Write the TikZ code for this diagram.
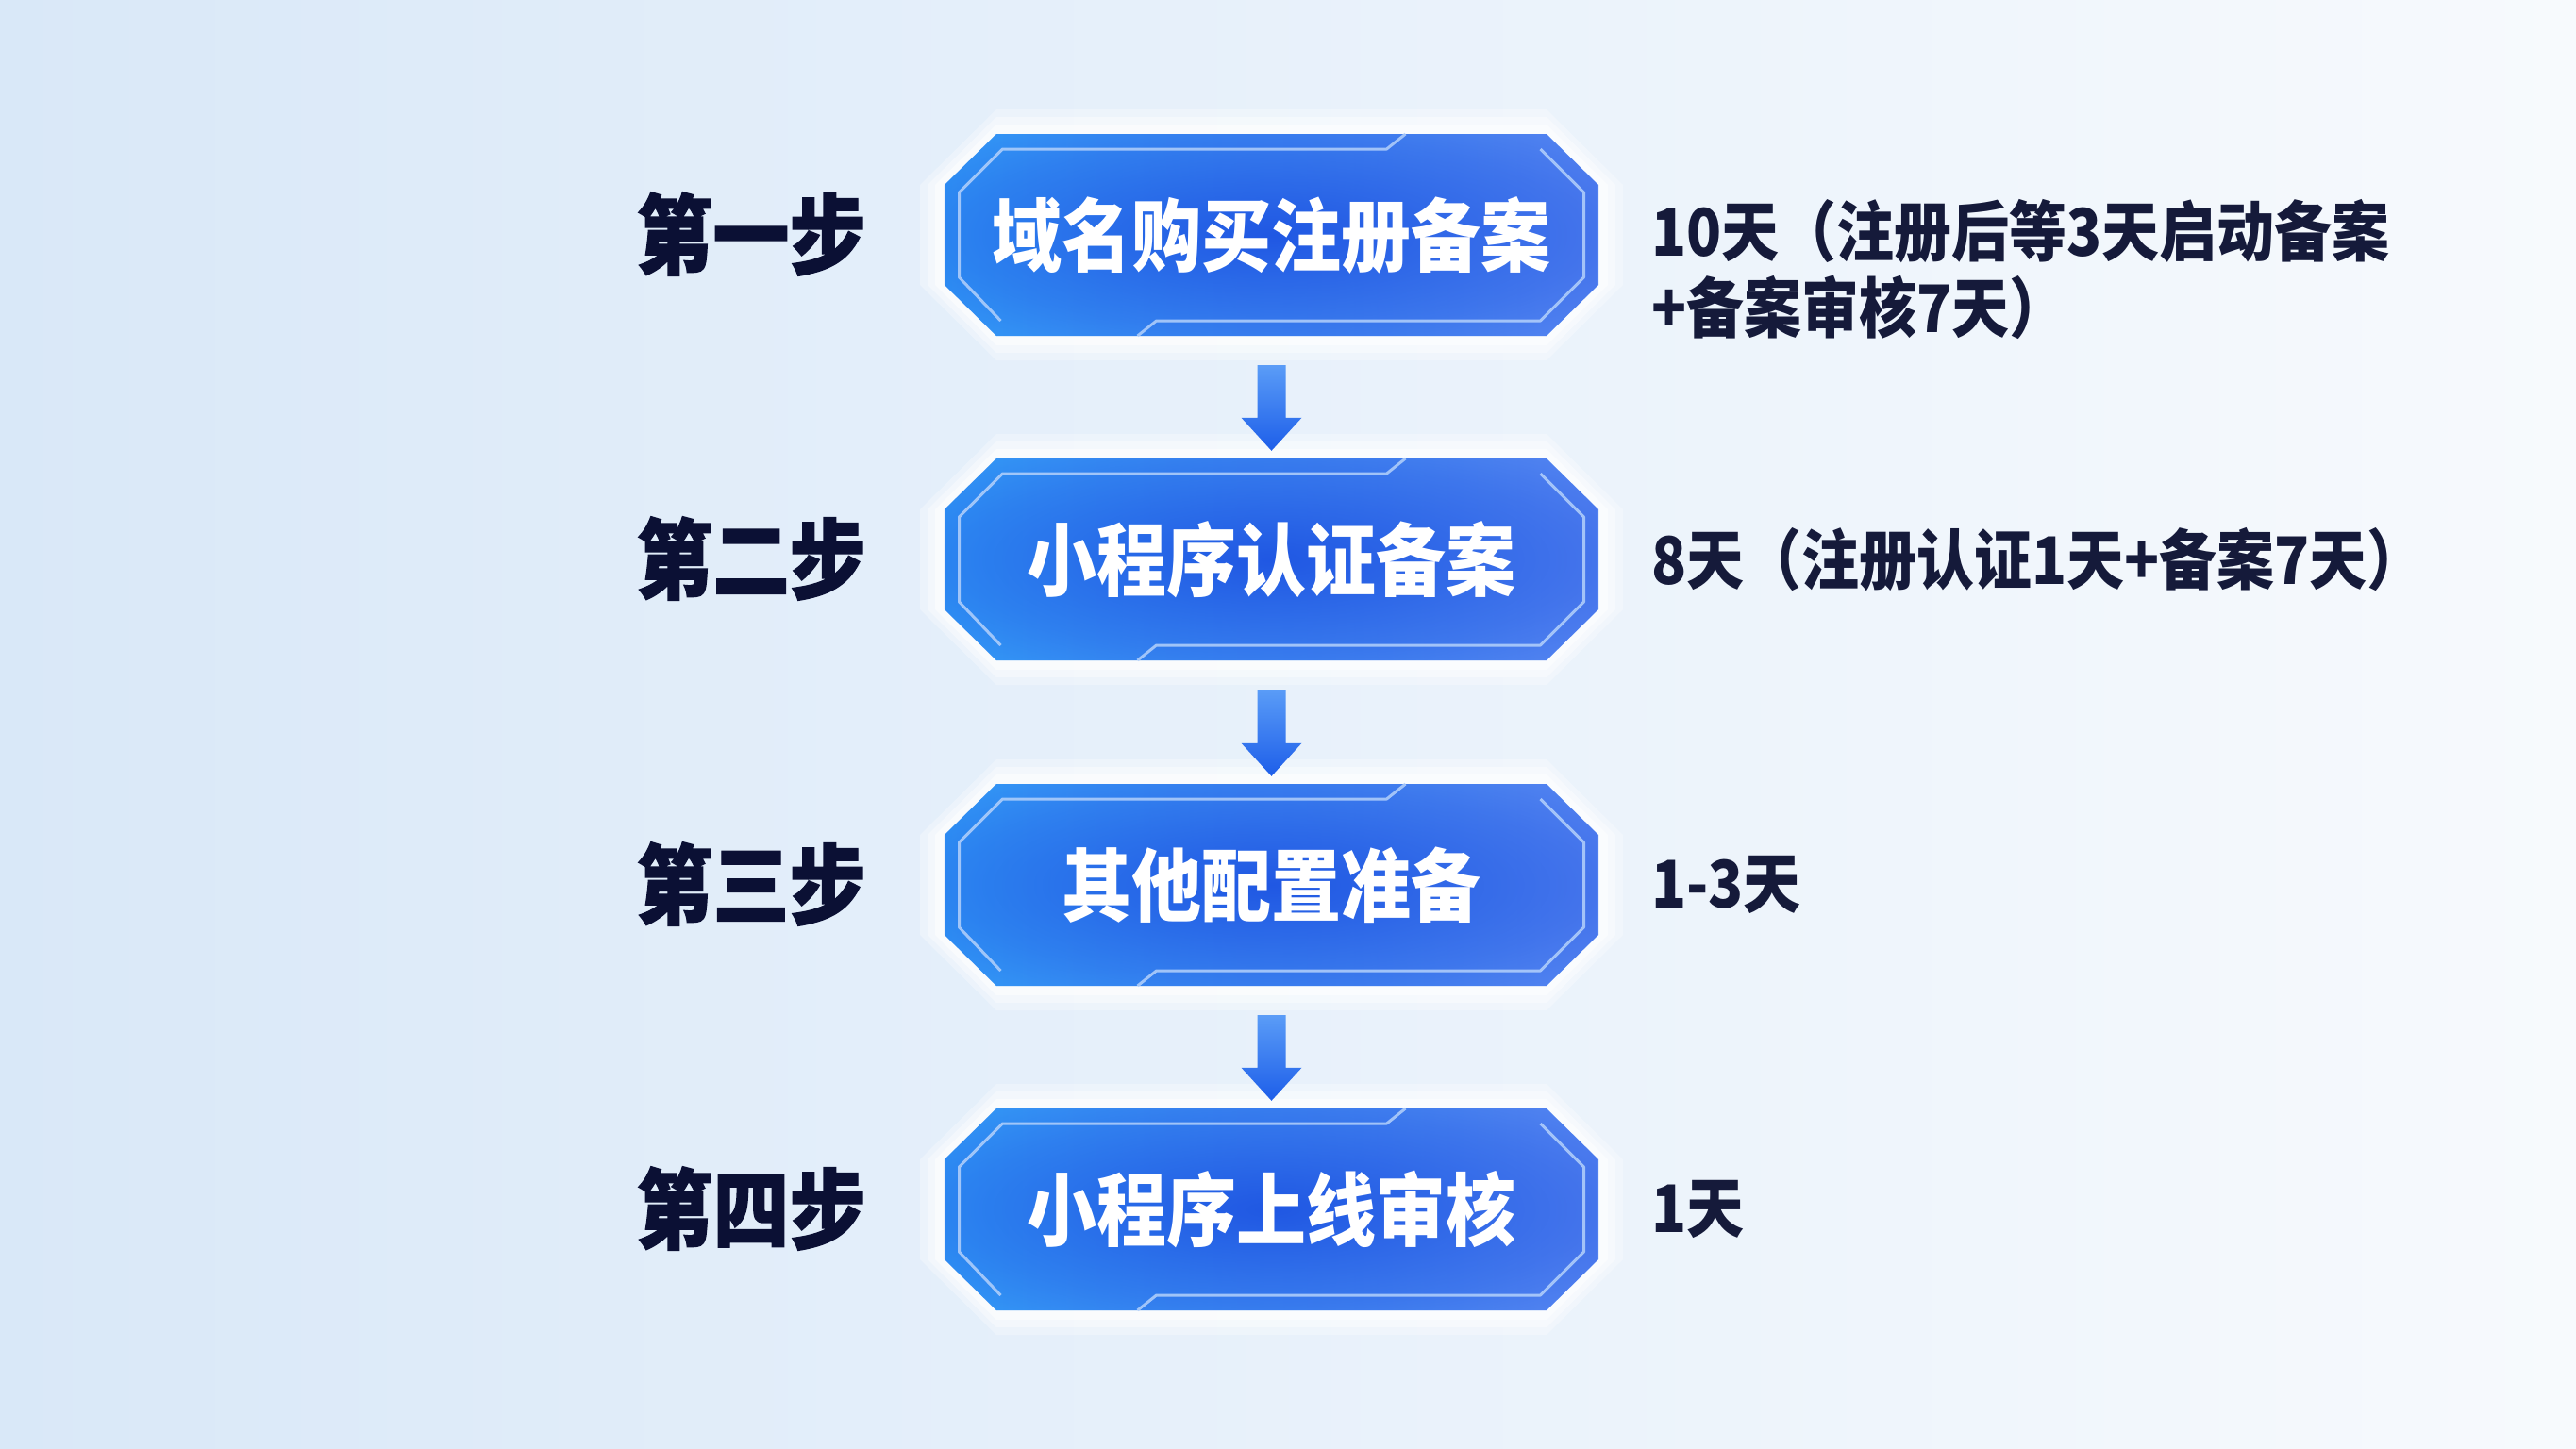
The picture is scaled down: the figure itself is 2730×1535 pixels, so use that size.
\documentclass[tikz,border=0pt]{standalone}
\usepackage{graphicx}
\usepackage{fontspec}
\setmainfont{Noto Sans CJK SC}
\newfontfamily\heavyfont{Noto Sans CJK SC}[BoldFeatures={FakeBold=1.6}]
\usetikzlibrary{calc,fadings}
\definecolor{bgL}{HTML}{D9E8F8}
\definecolor{bgR}{HTML}{F7FAFD}
\definecolor{bxL}{HTML}{38AEFD}
\definecolor{bxM}{HTML}{2E74F2}
\definecolor{bxR}{HTML}{6692F5}
\definecolor{bxC}{HTML}{1A4EE0}
\definecolor{inl}{HTML}{B4D1FB}
\definecolor{navy}{HTML}{0B1034}
\definecolor{navyt}{HTML}{151A3A}
\definecolor{arrT}{HTML}{5A9CF7}
\definecolor{arrB}{HTML}{1D5EE9}
\pgfdeclareradialshading{boxfadeshade}{\pgfpointorigin}{color(0bp)=(pgftransparent!12); color(24bp)=(pgftransparent!55); color(44bp)=(pgftransparent!100); color(50bp)=(pgftransparent!100)}
\pgfdeclarefading{boxfade}{\pgfuseshading{boxfadeshade}}
\newcommand\tall[1]{\scalebox{1}[1.14]{#1}}
\tikzset{
  oct/.style={insert path={(-291.5,{-107-#1}) -- (291.5,{-107-#1}) -- ({346.5+#1},-53) -- ({346.5+#1},53) -- (291.5,{107+#1}) -- (-291.5,{107+#1}) -- ({-346.5-#1},53) -- ({-346.5-#1},-53) -- cycle}},
  innerline/.style={draw=inl, line width=3pt, opacity=0.85, line join=round},
  boxtext/.style={inner sep=0pt, minimum width=693pt, minimum height=214pt, text=white, font=\fontsize{74}{80}\selectfont\bfseries},
  steplabel/.style={inner sep=0pt, text=navy, font=\heavyfont\fontsize{81}{86}\selectfont\bfseries},
  note/.style={inner sep=0pt, anchor=west, text=navyt, font=\fontsize{61}{70}\selectfont\bfseries},
  arrowfill/.style={top color=arrT, bottom color=arrB}
}
\newcommand\flowbox[4]{%
  \begin{scope}[shift={(#2,#3)}]
    \fill[white, opacity=0.30, oct=26];
    \fill[white, opacity=0.40, oct=18];
    \fill[white, opacity=0.55, oct=10];
    \shade[left color=bxL, middle color=bxM, right color=bxR, oct=0];
    \fill[bxC, path fading=boxfade, oct=0];
    \draw[innerline] (142,-107) -- (122,-91) -- (-285,-91) -- (-331,-45) -- (-331,45) -- (-287,91);
    \draw[innerline] (-142,107) -- (-122,91) -- (285,91) -- (331,45) -- (331,-45) -- (285,-91);
    \node[boxtext] (#1) at (0,0) {\tall{#4}};
  \end{scope}}
\begin{document}
\begin{tikzpicture}[x=1pt,y=-1pt]
\useasboundingbox (0,0) rectangle (2730,1535);
\shade[left color=bgL, right color=bgR] (0,0) rectangle (2730,1535);

\flowbox{b1}{1347.5}{249}{域名购买注册备案}
\flowbox{b2}{1347.5}{593}{小程序认证备案}
\flowbox{b3}{1347.5}{938}{其他配置准备}
\flowbox{b4}{1347.5}{1282}{小程序上线审核}

\node[steplabel] (s1) at (796,248) {\tall{第一步}};
\node[steplabel] (s2) at (796,592) {\tall{第二步}};
\node[steplabel] (s3) at (796,937) {\tall{第三步}};
\node[steplabel] (s4) at (796,1281) {\tall{第四步}};

\node[note] (n1) at (1750,245) {\tall{10天（注册后等3天启动备案}};
\node[note] (n1b) at (1750,326) {\tall{+备案审核7天）}};
\node[note] (n2) at (1750,593) {\tall{8天（注册认证1天+备案7天）}};
\node[note] (n3) at (1750,938) {\tall{1-3天}};
\node[note] (n4) at (1750,1282) {\tall{1天}};

\foreach \a/\b in {b1/b2,b2/b3,b3/b4}{
  \shade[arrowfill] ($(\a.south)+(-15,31)$) -- ($(\a.south)+(15,31)$) -- ($(\b.north)+(15,-43)$) -- ($(\b.north)+(32,-43)$) -- ($(\b.north)+(0,-8)$) -- ($(\b.north)+(-32,-43)$) -- ($(\b.north)+(-15,-43)$) -- cycle;
}
\end{tikzpicture}
\end{document}
